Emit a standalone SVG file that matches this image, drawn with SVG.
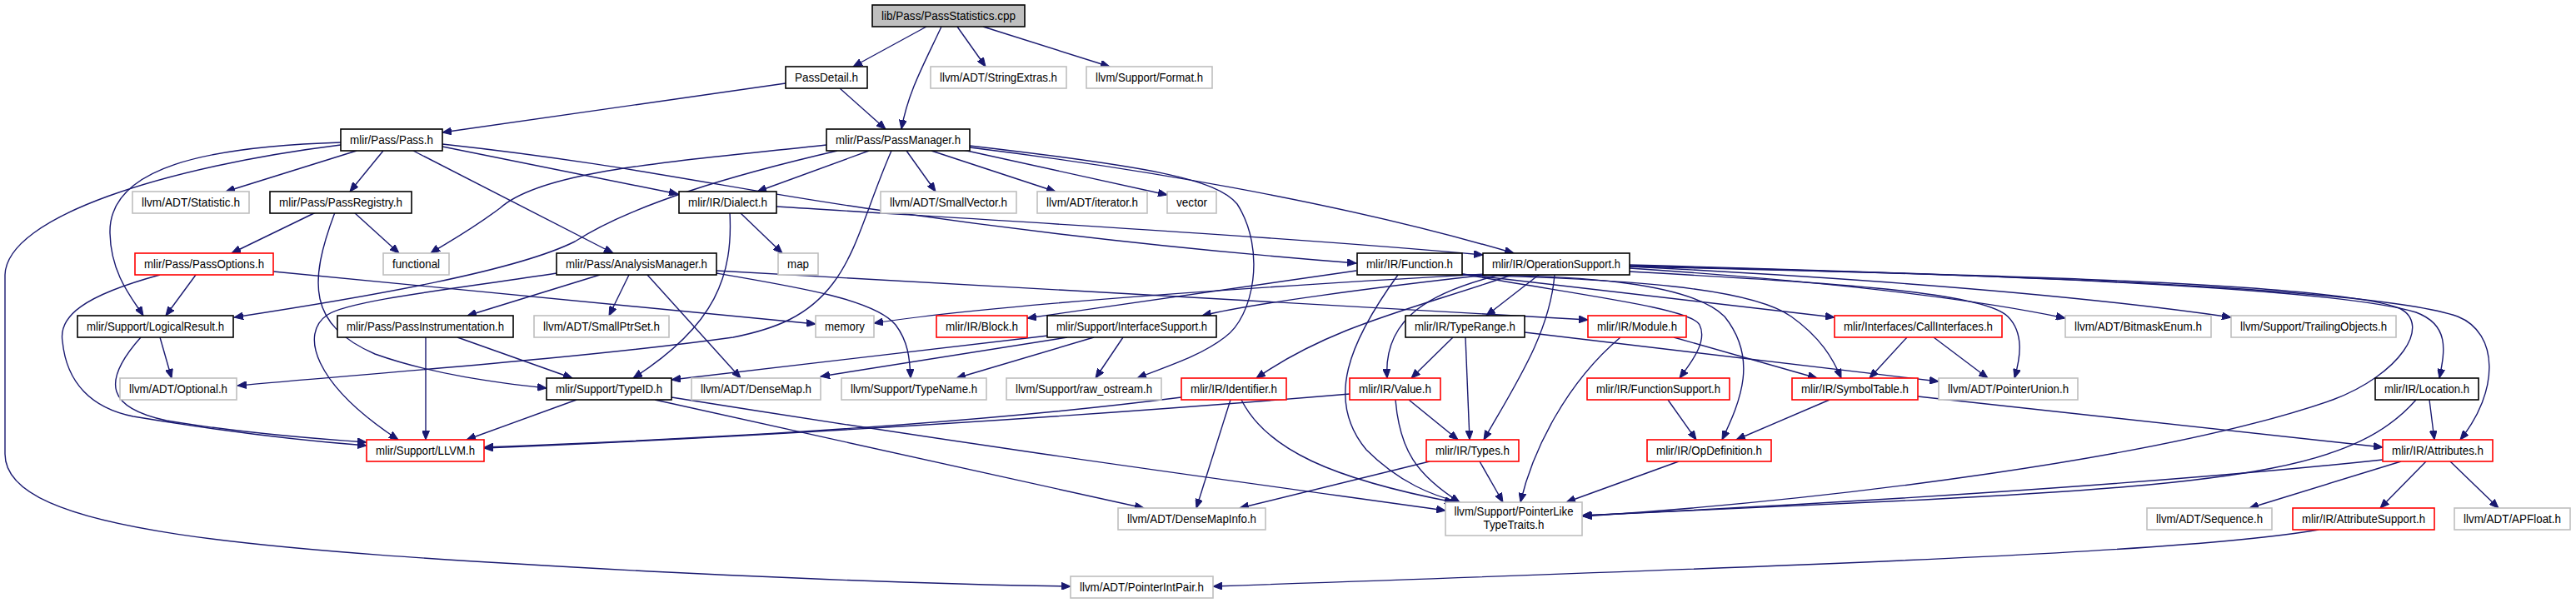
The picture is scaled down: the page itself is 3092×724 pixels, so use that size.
<svg xmlns="http://www.w3.org/2000/svg" width="3092" height="724" viewBox="0 0 3092 724">
<style>
rect{fill:#fff;stroke-width:1.6}
.b{stroke:#000}.g{stroke:#bfbfbf}.r{stroke:#ff0000}
.root{fill:#bfbfbf;stroke:#000}
text{font-family:"Liberation Sans",Arial,sans-serif;font-size:14.5px;fill:#000;text-anchor:middle}
#edges path{fill:none;stroke:#191970;stroke-width:1.4;marker-end:url(#ah)}
</style>
<defs>
<marker id="ah" markerUnits="userSpaceOnUse" markerWidth="12" markerHeight="9" refX="11" refY="4.5" orient="auto"><path d="M0,0 L11,4.5 L0,9 z" fill="#191970" stroke="#191970" stroke-width="1"/></marker>
</defs>
<rect x="0" y="0" width="3092" height="724" style="fill:#fff;stroke:none"/>
<g id="edges">
<path d="M1112,32 L1024,80"/>
<path d="M1130,32 C1110,75 1090,110 1082,155"/>
<path d="M1149,32 L1183,80"/>
<path d="M1180,32 L1332,80"/>
<path d="M943,100 L531,159"/>
<path d="M1008,106 L1063,155"/>
<path d="M428,181 L271,230"/>
<path d="M460,181 L420,230"/>
<path d="M496,181 L736,304"/>
<path d="M409,171 C250,176 130,200 132,280 C133,330 160,360 172,379"/>
<path d="M409,174 C200,200 8,260 6,330 L6,545 C6,640 300,660 780,686 C1000,697 1150,702 1285,704"/>
<path d="M531,176 L814,233"/>
<path d="M531,173 C760,198 880,228 1060,253 C1260,282 1450,302 1628,316"/>
<path d="M992,174 C800,195 650,205 600,250 C560,280 530,295 517,304"/>
<path d="M1005,181 C880,210 760,245 690,290 C620,325 450,355 281,381"/>
<path d="M1070,181 C1040,250 1030,300 1000,340 C970,380 930,395 880,405 C700,430 450,448 285,463"/>
<path d="M1043,181 L909,230"/>
<path d="M1088,181 L1123,230"/>
<path d="M1118,181 L1267,230"/>
<path d="M1156,180 L1401,234"/>
<path d="M1164,177 C1350,200 1600,240 1817,304"/>
<path d="M1164,175 C1380,200 1460,215 1485,245 C1520,300 1505,380 1470,405 C1440,428 1400,440 1365,454"/>
<path d="M888,255 L939,304"/>
<path d="M932,248 C1200,265 1550,285 1780,306"/>
<path d="M876,255 C880,330 860,390 760,454"/>
<path d="M379,255 L278,304"/>
<path d="M425,255 L479,304"/>
<path d="M402,255 C370,340 370,390 450,425 C520,450 600,460 656,466"/>
<path d="M235,330 L199,379"/>
<path d="M192,330 C100,355 70,380 75,410 C80,460 110,490 160,500 C250,515 350,528 440,535"/>
<path d="M328,326 L979,389"/>
<path d="M720,330 L561,379"/>
<path d="M755,330 L731,379"/>
<path d="M777,330 L889,454"/>
<path d="M860,328 C960,345 1050,360 1075,390 C1090,410 1092,430 1093,454"/>
<path d="M860,325 C1200,345 1600,365 1906,384"/>
<path d="M668,328 C560,345 420,360 393,378 C360,400 375,460 478,528"/>
<path d="M511,405 L511,528"/>
<path d="M549,405 L687,454"/>
<path d="M192,405 L206,454"/>
<path d="M169,405 C120,460 130,490 200,505 C290,520 380,527 440,531"/>
<path d="M692,480 L560,528"/>
<path d="M786,480 L1373,610"/>
<path d="M806,477 C1200,540 1500,580 1735,613"/>
<path d="M1258,403 L806,456"/>
<path d="M1281,405 L985,452"/>
<path d="M1313,405 L1148,454"/>
<path d="M1348,405 L1315,454"/>
<path d="M1628,325 L1233,382"/>
<path d="M1755,329 C1900,355 2030,370 2040,390 C2050,410 2030,435 2016,454"/>
<path d="M1755,330 C1900,330 2030,340 2070,380 C2110,430 2090,480 2067,528"/>
<path d="M1755,330 C1950,335 2100,345 2150,380 C2185,405 2200,430 2210,454"/>
<path d="M1755,329 L2202,381"/>
<path d="M1678,330 C1620,410 1590,480 1640,540 C1680,580 1720,595 1752,603"/>
<path d="M1783,329 C1500,345 1200,365 1049,388"/>
<path d="M1785,330 C1650,345 1500,365 1443,379"/>
<path d="M1815,330 C1700,370 1600,390 1508,454"/>
<path d="M1800,330 C1720,350 1660,380 1665,454"/>
<path d="M1847,330 L1784,379"/>
<path d="M1866,330 C1860,400 1820,460 1781,528"/>
<path d="M1956,322 C2150,335 2350,355 2479,382"/>
<path d="M1956,320 C2250,335 2500,355 2678,381"/>
<path d="M1956,326 C2200,340 2380,350 2410,380 C2430,400 2425,430 2418,454"/>
<path d="M1956,318 C2400,330 2800,345 2900,375 C2940,390 2935,420 2928,454"/>
<path d="M1956,319 C2400,330 2850,345 2950,380 C3000,400 3000,470 2953,528"/>
<path d="M1956,320 C2400,330 2800,340 2880,370 C2920,390 2880,450 2800,480 C2600,550 2200,600 1900,620"/>
<path d="M1744,405 L1694,454"/>
<path d="M1759,405 L1764,528"/>
<path d="M1830,399 L2327,458"/>
<path d="M2009,405 L2181,454"/>
<path d="M1945,405 C1880,460 1840,540 1825,603"/>
<path d="M2289,405 L2244,454"/>
<path d="M2321,405 L2386,454"/>
<path d="M2002,480 L2036,528"/>
<path d="M2196,480 L2084,528"/>
<path d="M2302,476 L2860,537"/>
<path d="M1691,480 L1750,528"/>
<path d="M1675,480 C1680,540 1700,570 1752,603"/>
<path d="M1620,473 C1300,500 900,525 581,538"/>
<path d="M1418,477 C1200,505 900,525 581,537"/>
<path d="M1477,480 L1436,610"/>
<path d="M1490,480 C1520,540 1600,575 1745,603"/>
<path d="M1716,554 L1488,610"/>
<path d="M1776,554 L1804,603"/>
<path d="M2015,554 L1880,603"/>
<path d="M2916,480 L2922,528"/>
<path d="M2900,480 C2830,560 2700,580 2310,600 C2150,608 2000,615 1899,619"/>
<path d="M2860,552 C2600,580 2200,605 1899,619"/>
<path d="M2882,554 L2700,610"/>
<path d="M2912,554 L2857,610"/>
<path d="M2941,554 L2999,610"/>
<path d="M2783,636 C2650,660 2300,675 1456,704"/>
</g>
<g id="n_root"><rect class="root" x="1047" y="6" width="183" height="26"/><text x="1138.5" y="24" textLength="161" lengthAdjust="spacingAndGlyphs">lib/Pass/PassStatistics.cpp</text></g>
<g id="n_passdetail"><rect class="b" x="943" y="80" width="98" height="26"/><text x="992" y="98" textLength="76" lengthAdjust="spacingAndGlyphs">PassDetail.h</text></g>
<g id="n_stringextras"><rect class="g" x="1117" y="80" width="163" height="26"/><text x="1198.5" y="98" textLength="141" lengthAdjust="spacingAndGlyphs">llvm/ADT/StringExtras.h</text></g>
<g id="n_format"><rect class="g" x="1304" y="80" width="151" height="26"/><text x="1379.5" y="98" textLength="129" lengthAdjust="spacingAndGlyphs">llvm/Support/Format.h</text></g>
<g id="n_pass"><rect class="b" x="409" y="155" width="122" height="26"/><text x="470" y="173" textLength="100" lengthAdjust="spacingAndGlyphs">mlir/Pass/Pass.h</text></g>
<g id="n_passmanager"><rect class="b" x="992" y="155" width="172" height="26"/><text x="1078" y="173" textLength="150" lengthAdjust="spacingAndGlyphs">mlir/Pass/PassManager.h</text></g>
<g id="n_statistic"><rect class="g" x="159" y="230" width="140" height="26"/><text x="229" y="248" textLength="118" lengthAdjust="spacingAndGlyphs">llvm/ADT/Statistic.h</text></g>
<g id="n_passregistry"><rect class="b" x="324" y="230" width="170" height="26"/><text x="409" y="248" textLength="148" lengthAdjust="spacingAndGlyphs">mlir/Pass/PassRegistry.h</text></g>
<g id="n_dialect"><rect class="b" x="815" y="230" width="117" height="26"/><text x="873.5" y="248" textLength="95" lengthAdjust="spacingAndGlyphs">mlir/IR/Dialect.h</text></g>
<g id="n_smallvector"><rect class="g" x="1057" y="230" width="163" height="26"/><text x="1138.5" y="248" textLength="141" lengthAdjust="spacingAndGlyphs">llvm/ADT/SmallVector.h</text></g>
<g id="n_iterator"><rect class="g" x="1245" y="230" width="132" height="26"/><text x="1311" y="248" textLength="110" lengthAdjust="spacingAndGlyphs">llvm/ADT/iterator.h</text></g>
<g id="n_vector"><rect class="g" x="1401" y="230" width="59" height="26"/><text x="1430.5" y="248" textLength="37" lengthAdjust="spacingAndGlyphs">vector</text></g>
<g id="n_passoptions"><rect class="r" x="162" y="304" width="166" height="26"/><text x="245" y="322" textLength="144" lengthAdjust="spacingAndGlyphs">mlir/Pass/PassOptions.h</text></g>
<g id="n_functional"><rect class="g" x="460" y="304" width="79" height="26"/><text x="499.5" y="322" textLength="57" lengthAdjust="spacingAndGlyphs">functional</text></g>
<g id="n_analysismanager"><rect class="b" x="668" y="304" width="192" height="26"/><text x="764" y="322" textLength="170" lengthAdjust="spacingAndGlyphs">mlir/Pass/AnalysisManager.h</text></g>
<g id="n_map"><rect class="g" x="934" y="304" width="48" height="26"/><text x="958" y="322" textLength="26" lengthAdjust="spacingAndGlyphs">map</text></g>
<g id="n_function"><rect class="b" x="1629" y="304" width="126" height="26"/><text x="1692" y="322" textLength="104" lengthAdjust="spacingAndGlyphs">mlir/IR/Function.h</text></g>
<g id="n_opsupport"><rect class="b" x="1780" y="304" width="176" height="26"/><text x="1868" y="322" textLength="154" lengthAdjust="spacingAndGlyphs">mlir/IR/OperationSupport.h</text></g>
<g id="n_logicalresult"><rect class="b" x="93" y="379" width="187" height="26"/><text x="186.5" y="397" textLength="165" lengthAdjust="spacingAndGlyphs">mlir/Support/LogicalResult.h</text></g>
<g id="n_passinstr"><rect class="b" x="405" y="379" width="211" height="26"/><text x="510.5" y="397" textLength="189" lengthAdjust="spacingAndGlyphs">mlir/Pass/PassInstrumentation.h</text></g>
<g id="n_smallptrset"><rect class="g" x="641" y="379" width="162" height="26"/><text x="722" y="397" textLength="140" lengthAdjust="spacingAndGlyphs">llvm/ADT/SmallPtrSet.h</text></g>
<g id="n_memory"><rect class="g" x="979" y="379" width="70" height="26"/><text x="1014" y="397" textLength="48" lengthAdjust="spacingAndGlyphs">memory</text></g>
<g id="n_block"><rect class="r" x="1124" y="379" width="109" height="26"/><text x="1178.5" y="397" textLength="87" lengthAdjust="spacingAndGlyphs">mlir/IR/Block.h</text></g>
<g id="n_interfacesupport"><rect class="b" x="1257" y="379" width="203" height="26"/><text x="1358.5" y="397" textLength="181" lengthAdjust="spacingAndGlyphs">mlir/Support/InterfaceSupport.h</text></g>
<g id="n_typerange"><rect class="b" x="1687" y="379" width="143" height="26"/><text x="1758.5" y="397" textLength="121" lengthAdjust="spacingAndGlyphs">mlir/IR/TypeRange.h</text></g>
<g id="n_module"><rect class="r" x="1906" y="379" width="118" height="26"/><text x="1965" y="397" textLength="96" lengthAdjust="spacingAndGlyphs">mlir/IR/Module.h</text></g>
<g id="n_callinterfaces"><rect class="r" x="2202" y="379" width="201" height="26"/><text x="2302.5" y="397" textLength="179" lengthAdjust="spacingAndGlyphs">mlir/Interfaces/CallInterfaces.h</text></g>
<g id="n_bitmaskenum"><rect class="g" x="2479" y="379" width="175" height="26"/><text x="2566.5" y="397" textLength="153" lengthAdjust="spacingAndGlyphs">llvm/ADT/BitmaskEnum.h</text></g>
<g id="n_trailingobjects"><rect class="g" x="2678" y="379" width="198" height="26"/><text x="2777" y="397" textLength="176" lengthAdjust="spacingAndGlyphs">llvm/Support/TrailingObjects.h</text></g>
<g id="n_optional"><rect class="g" x="144" y="454" width="140" height="26"/><text x="214" y="472" textLength="118" lengthAdjust="spacingAndGlyphs">llvm/ADT/Optional.h</text></g>
<g id="n_typeid"><rect class="b" x="656" y="454" width="150" height="26"/><text x="731" y="472" textLength="128" lengthAdjust="spacingAndGlyphs">mlir/Support/TypeID.h</text></g>
<g id="n_densemap"><rect class="g" x="830" y="454" width="155" height="26"/><text x="907.5" y="472" textLength="133" lengthAdjust="spacingAndGlyphs">llvm/ADT/DenseMap.h</text></g>
<g id="n_typename"><rect class="g" x="1010" y="454" width="174" height="26"/><text x="1097" y="472" textLength="152" lengthAdjust="spacingAndGlyphs">llvm/Support/TypeName.h</text></g>
<g id="n_rawostream"><rect class="g" x="1208" y="454" width="186" height="26"/><text x="1301" y="472" textLength="164" lengthAdjust="spacingAndGlyphs">llvm/Support/raw_ostream.h</text></g>
<g id="n_identifier"><rect class="r" x="1418" y="454" width="126" height="26"/><text x="1481" y="472" textLength="104" lengthAdjust="spacingAndGlyphs">mlir/IR/Identifier.h</text></g>
<g id="n_value"><rect class="r" x="1620" y="454" width="109" height="26"/><text x="1674.5" y="472" textLength="87" lengthAdjust="spacingAndGlyphs">mlir/IR/Value.h</text></g>
<g id="n_functionsupport"><rect class="r" x="1905" y="454" width="171" height="26"/><text x="1990.5" y="472" textLength="149" lengthAdjust="spacingAndGlyphs">mlir/IR/FunctionSupport.h</text></g>
<g id="n_symboltable"><rect class="r" x="2151" y="454" width="151" height="26"/><text x="2226.5" y="472" textLength="129" lengthAdjust="spacingAndGlyphs">mlir/IR/SymbolTable.h</text></g>
<g id="n_pointerunion"><rect class="g" x="2327" y="454" width="167" height="26"/><text x="2410.5" y="472" textLength="145" lengthAdjust="spacingAndGlyphs">llvm/ADT/PointerUnion.h</text></g>
<g id="n_location"><rect class="b" x="2851" y="454" width="124" height="26"/><text x="2913" y="472" textLength="102" lengthAdjust="spacingAndGlyphs">mlir/IR/Location.h</text></g>
<g id="n_llvm"><rect class="r" x="440" y="528" width="141" height="26"/><text x="510.5" y="546" textLength="119" lengthAdjust="spacingAndGlyphs">mlir/Support/LLVM.h</text></g>
<g id="n_types"><rect class="r" x="1712" y="528" width="111" height="26"/><text x="1767.5" y="546" textLength="89" lengthAdjust="spacingAndGlyphs">mlir/IR/Types.h</text></g>
<g id="n_opdefinition"><rect class="r" x="1977" y="528" width="149" height="26"/><text x="2051.5" y="546" textLength="127" lengthAdjust="spacingAndGlyphs">mlir/IR/OpDefinition.h</text></g>
<g id="n_attributes"><rect class="r" x="2860" y="528" width="132" height="26"/><text x="2926" y="546" textLength="110" lengthAdjust="spacingAndGlyphs">mlir/IR/Attributes.h</text></g>
<g id="n_densemapinfo"><rect class="g" x="1342" y="610" width="177" height="26"/><text x="1430.5" y="628" textLength="155" lengthAdjust="spacingAndGlyphs">llvm/ADT/DenseMapInfo.h</text></g>
<g id="n_pointerlike"><rect class="g" x="1735" y="603" width="164" height="40"/><text x="1817" y="619" textLength="143" lengthAdjust="spacingAndGlyphs">llvm/Support/PointerLike</text><text x="1817" y="635" textLength="73" lengthAdjust="spacingAndGlyphs">TypeTraits.h</text></g>
<g id="n_sequence"><rect class="g" x="2577" y="610" width="150" height="26"/><text x="2652" y="628" textLength="128" lengthAdjust="spacingAndGlyphs">llvm/ADT/Sequence.h</text></g>
<g id="n_attributesupport"><rect class="r" x="2752" y="610" width="170" height="26"/><text x="2837" y="628" textLength="148" lengthAdjust="spacingAndGlyphs">mlir/IR/AttributeSupport.h</text></g>
<g id="n_apfloat"><rect class="g" x="2946" y="610" width="139" height="26"/><text x="3015.5" y="628" textLength="117" lengthAdjust="spacingAndGlyphs">llvm/ADT/APFloat.h</text></g>
<g id="n_pointerintpair"><rect class="g" x="1285" y="692" width="171" height="26"/><text x="1370.5" y="710" textLength="149" lengthAdjust="spacingAndGlyphs">llvm/ADT/PointerIntPair.h</text></g>
</svg>
